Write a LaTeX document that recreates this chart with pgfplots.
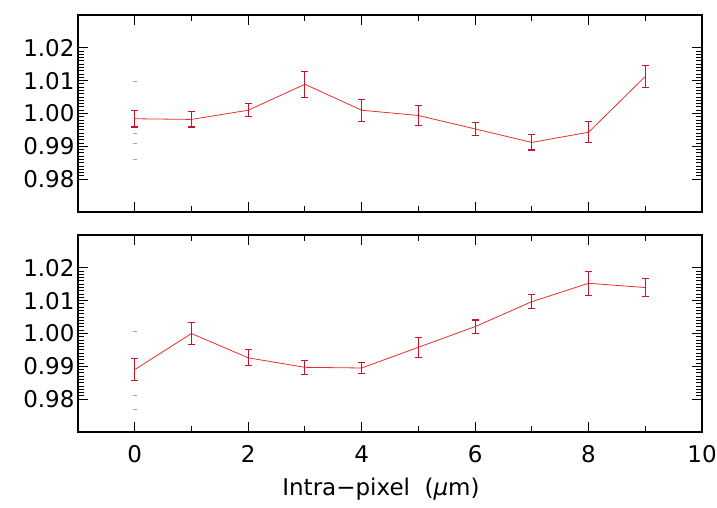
\documentclass[border=0pt]{standalone}
\usepackage{fontspec}
\setmainfont{DejaVu Sans}
\usepackage{pgfplots}
\pgfplotsset{compat=1.18}
\definecolor{linered}{RGB}{235,45,45}
\definecolor{errred}{RGB}{200,20,40}
\pgfplotstableread{
x y e
0 0.9984 0.0025
1 0.9982 0.0023
2 1.0010 0.0020
3 1.0089 0.0040
4 1.0010 0.0033
5 0.9994 0.0030
6 0.9953 0.0020
7 0.9912 0.0023
8 0.9943 0.0032
9 1.0113 0.0033
}\topdata
\pgfplotstableread{
x y e
0 0.9890 0.0034
1 1.0000 0.0033
2 0.9926 0.0024
3 0.9897 0.0022
4 0.9895 0.0016
5 0.9958 0.0030
6 1.0021 0.0020
7 1.0097 0.0021
8 1.0153 0.0036
9 1.0140 0.0028
}\botdata
\begin{document}
\begin{tikzpicture}
% top panel
\begin{axis}[at={(78pt,-212pt)}, scale only axis, width=624pt, height=197pt,
  xmin=-1, xmax=10, ymin=0.97, ymax=1.03,
  xtick={0,2,4,6,8,10}, minor x tick num=1, xticklabels={},
  ytick={0.98,0.99,1.00,1.01,1.02},
  minor y tick num=9,
  yticklabel style={/pgf/number format/.cd, fixed, fixed zerofill, precision=2, assume math mode=true},
  tick align=inside, tick style={black, line width=1pt},
  major tick length=10pt, minor tick length=6pt,
  axis line style={line width=1.4pt},
  ticklabel style={font=\fontsize{23}{27}\selectfont}]
\addplot[linered, line width=0.8pt, mark=none] table[x=x, y=y] {\topdata};
\addplot[only marks, mark=-, mark size=2pt, gray!70, line width=1pt]
  coordinates {(0,1.0096) (0,0.9939) (0,0.9910) (0,0.9860)};
\end{axis}
\begin{axis}[at={(78pt,-212pt)}, scale only axis, width=624pt, height=197pt,
  xmin=-1, xmax=10, ymin=0.97, ymax=1.03, hide axis]
\addplot[draw=none, mark=none,
    error bars/.cd, y dir=both, y explicit,
    error bar style={errred, line width=1.1pt},
    error mark options={rotate=90, mark size=3.5pt, errred, line width=1.1pt}]
  table[x=x, y=y, y error=e] {\topdata};
\end{axis}
% bottom panel
\begin{axis}[at={(78pt,-432pt)}, scale only axis, width=624pt, height=197pt,
  xmin=-1, xmax=10, ymin=0.97, ymax=1.03,
  xtick={0,2,4,6,8,10}, minor x tick num=1,
  ytick={0.98,0.99,1.00,1.01,1.02},
  minor y tick num=9,
  yticklabel style={/pgf/number format/.cd, fixed, fixed zerofill, precision=2, assume math mode=true},
  xticklabel style={/pgf/number format/assume math mode=true, yshift=-10pt},
  tick align=inside, tick style={black, line width=1pt},
  major tick length=10pt, minor tick length=6pt,
  axis line style={line width=1.4pt},
  ticklabel style={font=\fontsize{23}{27}\selectfont},
  xlabel={Intra−pixel\ \ (\textit{μ}m)},
  xlabel style={font=\fontsize{23}{27}\selectfont, yshift=-8pt, xshift=-9pt}]
\addplot[linered, line width=0.8pt, mark=none] table[x=x, y=y] {\botdata};
\addplot[only marks, mark=-, mark size=2pt, gray!70, line width=1pt]
  coordinates {(0,1.0005) (0,0.9810) (0,0.9770)};
\end{axis}
\begin{axis}[at={(78pt,-432pt)}, scale only axis, width=624pt, height=197pt,
  xmin=-1, xmax=10, ymin=0.97, ymax=1.03, hide axis]
\addplot[draw=none, mark=none,
    error bars/.cd, y dir=both, y explicit,
    error bar style={errred, line width=1.1pt},
    error mark options={rotate=90, mark size=3.5pt, errred, line width=1.1pt}]
  table[x=x, y=y, y error=e] {\botdata};
\end{axis}
\pgfresetboundingbox
\path (0,0) rectangle (717pt,-507pt);
\end{tikzpicture}
\end{document}
